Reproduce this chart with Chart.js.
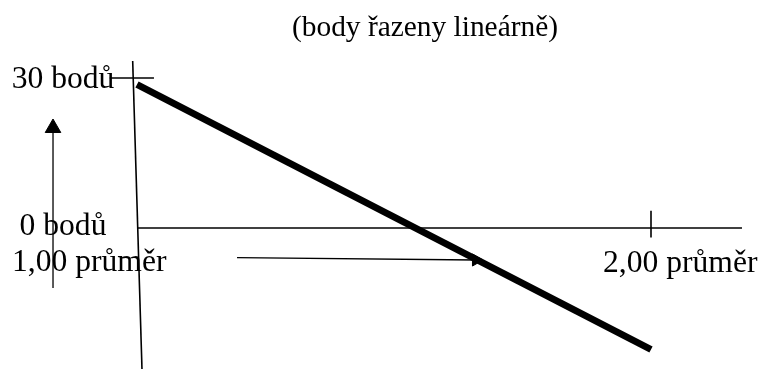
<!DOCTYPE html>
<html>
<head>
<meta charset="utf-8">
<script src="https://cdn.jsdelivr.net/npm/chart.js@4.4.1/dist/chart.umd.min.js"></script>
<style>
  body { margin: 0; background: #fff; }
  #box { width: 763px; height: 369px; }
</style>
</head>
<body>
<div id="box"><canvas id="chart"></canvas></div>
<script>
// texts
var titleText = '(body řazeny lineárně)';
var yTickValues = [30, 0];
var yTickLabels = ['30 bodů', '0 bodů'];
var xTickValues = [1, 2];
var xTickLabels = ['1,00 průměr', '2,00 průměr'];

// thick line (points vs. average)
var trendX = [1.00, 2.00];
var trendY = [28.7, -24.3];

// hand drawn axes
var yAxisX = [0.9916, 1.0097];
var yAxisY = [33.4, -28.2];
var xAxisX = [1.002, 2.177];
var xAxisY = [0, 0];
var topTickX = [0.947, 1.033];
var topTickY = [30, 30];
var rightTickX = [2.00, 2.00];
var rightTickY = [3.46, -1.9];

// arrows (last point = arrow head)
var upArrowX = [0.8366, 0.8366];
var upArrowY = [-12, 20];
var rightArrowX = [1.1946, 1.6595];
var rightArrowY = [-5.94, -6.4];

function seg(xs, ys) {
  return xs.map(function (v, i) { return { x: v, y: ys[i] }; });
}

function lineSet(xs, ys, width) {
  return {
    data: seg(xs, ys),
    showLine: true,
    borderColor: '#000',
    borderWidth: width,
    borderCapStyle: 'butt',
    pointRadius: 0,
    pointHoverRadius: 0
  };
}

function arrowSet(xs, ys, head, angle) {
  var ds = lineSet(xs, ys, 1.3);
  ds.pointStyle = 'triangle';
  ds.pointRadius = [0, head];
  ds.rotation = [0, angle];
  ds.pointBackgroundColor = '#000';
  ds.pointBorderColor = '#000';
  ds.pointBorderWidth = 1;
  return ds;
}

// title and the hand placed axis texts
var labelPlugin = {
  id: 'labels',
  afterDraw: function (chart, args, opts) {
    var ctx = chart.ctx;
    var sx = chart.scales.x;
    var sy = chart.scales.y;
    ctx.save();
    ctx.fillStyle = '#000';
    ctx.textBaseline = 'alphabetic';
    ctx.textAlign = 'center';
    ctx.font = opts.titleFont;
    ctx.fillText(titleText, opts.titleX, opts.titleY);
    ctx.font = opts.font;
    for (var i = 0; i < yTickLabels.length; i++) {
      ctx.fillText(yTickLabels[i], sx.getPixelForValue(1) + opts.yLabelDx,
        sy.getPixelForValue(yTickValues[i]) + opts.yLabelDy[i]);
    }
    ctx.textAlign = 'left';
    for (var j = 0; j < xTickLabels.length; j++) {
      ctx.fillText(xTickLabels[j], sx.getPixelForValue(xTickValues[j]) + opts.xLabelDx[j],
        sy.getPixelForValue(0) + opts.xLabelDy[j]);
    }
    ctx.restore();
  }
};

var ctx = document.getElementById('chart').getContext('2d');
var chart = new Chart(ctx, {
  type: 'scatter',
  data: {
    datasets: [
      lineSet(trendX, trendY, 7),
      lineSet(yAxisX, yAxisY, 1.6),
      lineSet(xAxisX, xAxisY, 1.6),
      lineSet(topTickX, topTickY, 1.6),
      lineSet(rightTickX, rightTickY, 1.6),
      arrowSet(upArrowX, upArrowY, 9, 0),
      arrowSet(rightArrowX, rightArrowY, 7, 90)
    ]
  },
  options: {
    responsive: true,
    maintainAspectRatio: false,
    animation: false,
    devicePixelRatio: 1,
    layout: { padding: { top: 45, left: 0, right: 0, bottom: 0 }, autoPadding: false },
    scales: {
      x: { type: 'linear', display: false, min: 0.73346, max: 2.2179 },
      y: { type: 'linear', display: false, min: -28.2, max: 36.6 }
    },
    plugins: {
      legend: { display: false },
      tooltip: { enabled: false },
      title: { display: false },
      labels: {
        titleFont: '29.4px "Liberation Serif", "Times New Roman", serif',
        titleX: 425,
        titleY: 36,
        font: '31.6px "Liberation Serif", "Times New Roman", serif',
        yLabelDx: -74,
        yLabelDy: [10, 7],
        xLabelDx: [-125, -48],
        xLabelDy: [43, 44]
      }
    }
  },
  plugins: [labelPlugin]
});
</script>
</body>
</html>
